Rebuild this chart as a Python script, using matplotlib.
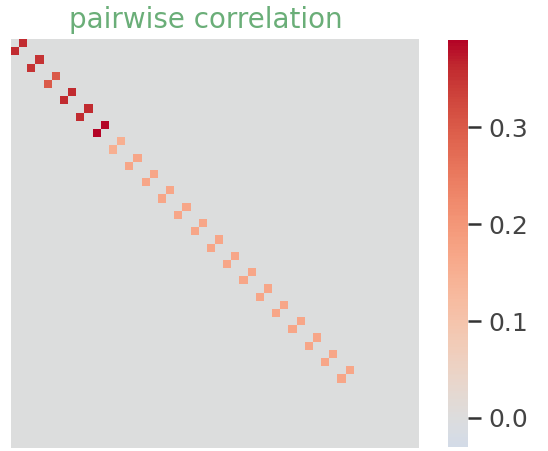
import matplotlib
matplotlib.use('Agg')
import matplotlib.pyplot as plt
import numpy as np
import seaborn as sns

# 50 features, consecutive pairs (0,1), (2,3), ... share a correlation
n_features = 50
pair_corr = [0.36, 0.35, 0.30, 0.36, 0.36, 0.39,
             0.15, 0.17, 0.17, 0.17, 0.17, 0.17, 0.17, 0.17,
             0.17, 0.17, 0.17, 0.17, 0.17, 0.17, 0.17]
cbar_ticks = [0.0, 0.1, 0.2, 0.3]

corr = np.zeros((n_features, n_features))
for k, v in enumerate(pair_corr):
    corr[2 * k, 2 * k + 1] = v
    corr[2 * k + 1, 2 * k] = v

fig = plt.figure(figsize=(5.48, 4.51), dpi=100)
ax = fig.add_axes([11 / 548, 3 / 451, 408 / 548, 409 / 451])
cax = fig.add_axes([448 / 548, 4 / 451, 20 / 548, 407 / 451])

sns.heatmap(corr, cmap='coolwarm', center=0, vmin=-0.03, vmax=0.39,
            xticklabels=False, yticklabels=False, ax=ax, cbar_ax=cax)

cbar = ax.collections[0].colorbar
cbar.set_ticks(cbar_ticks)
cbar.outline.set_visible(False)
cax.tick_params(labelsize=18, length=9.5, width=1.8, colors='#333333',
                labelcolor='#444444', pad=5)

ax.set_title('pairwise correlation', color='#6aae78', fontsize=20,
             x=0.478, pad=8)

fig.savefig('out.png', dpi=100)
